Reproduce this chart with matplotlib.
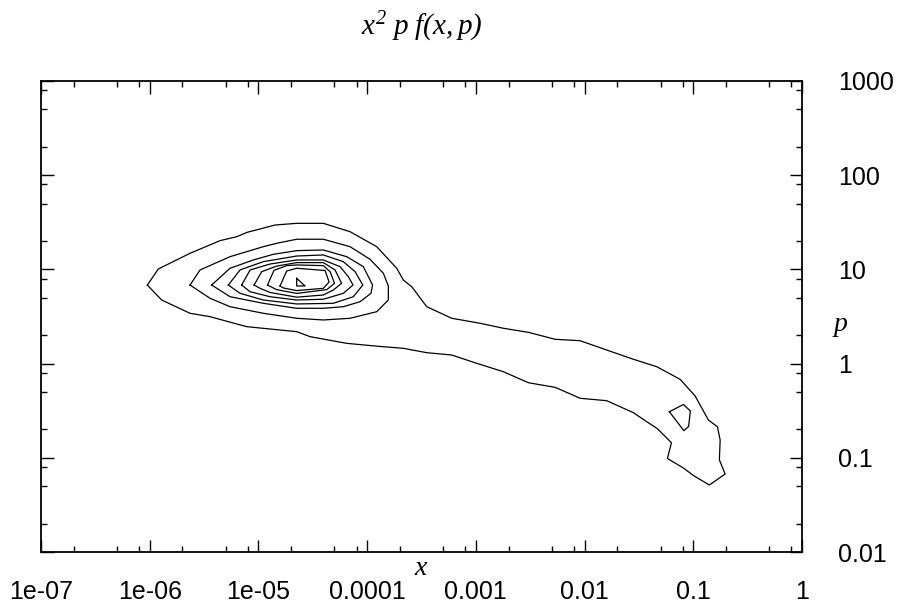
import matplotlib
matplotlib.use("Agg")
import matplotlib.pyplot as plt
import numpy as np
from matplotlib.ticker import FixedLocator, NullFormatter

plt.rcParams['mathtext.fontset'] = 'custom'
plt.rcParams['mathtext.it'] = 'Liberation Serif:italic'
plt.rcParams['mathtext.rm'] = 'Liberation Serif:italic'

# contour lines of x^2 p f(x,p) as (log10 x, log10 p)
outer_lx = [-6.022, -5.921, -5.629, -5.353, -5.200, -5.102, -4.847, -4.648, -4.403, -4.157,
            -3.912, -3.728, -3.667, -3.590, -3.452, -3.222, -2.961, -2.747, -2.517, -2.271,
            -2.041, -1.796, -1.551, -1.336, -1.121, -0.983, -0.861, -0.778, -0.753, -0.760,
            -0.707, -0.852, -0.999, -1.091, -1.238, -1.201, -1.330, -1.428, -1.551, -1.796,
            -2.041, -2.271, -2.517, -2.747, -2.992, -3.222, -3.452, -3.667, -3.881, -4.188,
            -4.525, -4.648, -5.108, -5.445, -5.629, -5.890, -6.022]
outer_lp = [0.834, 1.004, 1.171, 1.305, 1.347, 1.394, 1.471, 1.489, 1.489, 1.400,
            1.241, 1.012, 0.887, 0.816, 0.604, 0.481, 0.428, 0.375, 0.332, 0.258,
            0.243, 0.144, 0.046, -0.033, -0.167, -0.344, -0.599, -0.670, -0.811, -1.023,
            -1.172, -1.289, -1.188, -1.108, -1.007, -0.840, -0.691, -0.617, -0.521, -0.394,
            -0.368, -0.252, -0.203, -0.086, 0.003, 0.091, 0.116, 0.162, 0.182, 0.215,
            0.286, 0.339, 0.392, 0.498, 0.534, 0.675, 0.834]

island_lx = [-1.220, -1.091, -1.027, -1.043, -1.087, -1.220]
island_lp = [-0.511, -0.434, -0.503, -0.668, -0.712, -0.511]

ring2_lx = [-5.629, -5.537, -5.261, -4.955, -4.832, -4.648, -4.403, -4.157, -3.973, -3.851,
            -3.805, -3.805, -3.912, -4.157, -4.403, -4.648, -4.955, -5.261, -5.445, -5.629]
ring2_lp = [0.834, 0.994, 1.135, 1.241, 1.277, 1.320, 1.320, 1.241, 1.107, 0.959,
            0.824, 0.675, 0.551, 0.481, 0.463, 0.481, 0.534, 0.604, 0.693, 0.834]

ring3_lx = [-5.430, -5.261, -5.047, -4.863, -4.648, -4.403, -4.188, -4.035, -3.950, -3.965,
            -4.065, -4.219, -4.403, -4.648, -4.955, -5.261, -5.430]
ring3_lp = [0.834, 1.012, 1.100, 1.160, 1.199, 1.206, 1.135, 1.029, 0.834, 0.746,
            0.657, 0.604, 0.587, 0.587, 0.640, 0.710, 0.834]

ring4_lx = [-5.277, -5.169, -4.955, -4.648, -4.403, -4.219, -4.111, -4.040, -4.127, -4.311,
            -4.648, -4.955, -5.169, -5.277]
ring4_lp = [0.834, 0.994, 1.082, 1.142, 1.153, 1.082, 0.976, 0.834, 0.710, 0.640,
            0.633, 0.675, 0.746, 0.834]

ring5_lx = [-5.154, -5.077, -4.893, -4.648, -4.403, -4.249, -4.173, -4.130, -4.219, -4.403,
            -4.648, -4.893, -5.077, -5.154]
ring5_lp = [0.834, 0.994, 1.057, 1.100, 1.100, 1.029, 0.923, 0.834, 0.746, 0.683,
            0.675, 0.710, 0.763, 0.834]

ring6_lx = [-5.040, -4.970, -4.832, -4.648, -4.403, -4.295, -4.235, -4.311, -4.403, -4.648,
            -4.893, -4.985, -5.040]
ring6_lp = [0.834, 0.976, 1.035, 1.072, 1.072, 0.994, 0.852, 0.781, 0.728, 0.705,
            0.755, 0.799, 0.834]

ring7_lx = [-4.917, -4.857, -4.740, -4.648, -4.403, -4.341, -4.300, -4.372, -4.648, -4.832,
            -4.917]
ring7_lp = [0.834, 0.990, 1.040, 1.047, 1.040, 0.976, 0.852, 0.785, 0.745, 0.785,
            0.834]

ring8_lx = [-4.801, -4.740, -4.648, -4.387, -4.350, -4.403, -4.648, -4.771, -4.801]
ring8_lp = [0.824, 0.983, 1.012, 0.988, 0.866, 0.799, 0.775, 0.803, 0.824]

peak_lx = [-4.648, -4.571, -4.648, -4.648]
peak_lp = [0.905, 0.824, 0.824, 0.905]

contours = [(outer_lx, outer_lp), (island_lx, island_lp), (ring2_lx, ring2_lp),
            (ring3_lx, ring3_lp), (ring4_lx, ring4_lp), (ring5_lx, ring5_lp),
            (ring6_lx, ring6_lp), (ring7_lx, ring7_lp), (ring8_lx, ring8_lp),
            (peak_lx, peak_lp)]

x_ticks = [1e-7, 1e-6, 1e-5, 1e-4, 1e-3, 1e-2, 1e-1, 1]
x_labels = ['1e-07', '1e-06', '1e-05', '0.0001', '0.001', '0.01', '0.1', '1']
p_ticks = [0.01, 0.1, 1, 10, 100, 1000]
p_labels = ['0.01', '0.1', '1', '10', '100', '1000']

fig = plt.figure(figsize=(9.09, 6.13), dpi=100)
ax = fig.add_axes([0.0451, 0.0995, 0.8372, 0.7684])

for lx, lp in contours:
    ax.plot(10 ** np.array(lx), 10 ** np.array(lp), color='black', lw=0.9)

ax.set_xscale('log')
ax.set_yscale('log')
ax.set_xlim(1e-7, 1)
ax.set_ylim(0.01, 1000)

ax.xaxis.set_major_locator(FixedLocator(x_ticks))
ax.set_xticklabels(x_labels, fontfamily='Liberation Sans', fontsize=18)
ax.yaxis.set_major_locator(FixedLocator(p_ticks))
ax.set_yticklabels(p_labels, fontfamily='Liberation Sans', fontsize=18)

minor_x = [m * d for d in x_ticks[:-1] for m in (2, 5, 8)]
minor_p = [m * d for d in p_ticks[:-1] for m in (2, 5, 8)]
ax.xaxis.set_minor_locator(FixedLocator(minor_x))
ax.yaxis.set_minor_locator(FixedLocator(minor_p))
ax.xaxis.set_minor_formatter(NullFormatter())
ax.yaxis.set_minor_formatter(NullFormatter())

ax.tick_params(which='both', direction='in', top=True, bottom=True, left=True, right=True,
               labelleft=False, labelright=True, width=1)
ax.tick_params(which='major', length=9)
ax.tick_params(which='minor', length=4.5)
ax.tick_params(axis='x', which='major', pad=20)
ax.tick_params(axis='y', which='major', pad=26)

for s in ax.spines.values():
    s.set_linewidth(1.3)

ax.set_xlabel(r'$x$', fontsize=20)
ax.xaxis.set_label_coords(0.5, -0.003)
ax.yaxis.set_label_position('right')
ax.set_ylabel(r'$p$', fontsize=20, rotation=0, ha='center', va='center')
ax.yaxis.set_label_coords(1.05, 0.482)

ax.set_title(r'$x^2\ p\ f(x,p)$', fontsize=21, pad=33)

fig.savefig('out.png', dpi=100)
